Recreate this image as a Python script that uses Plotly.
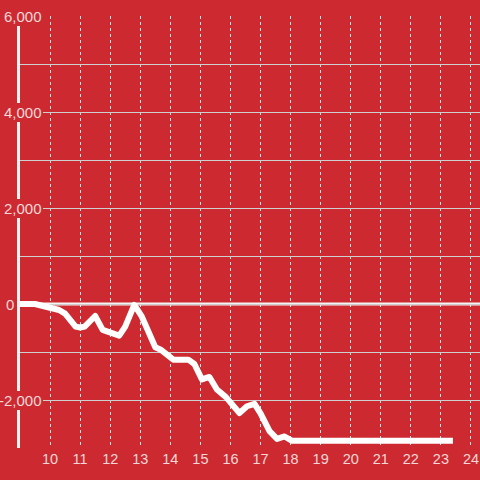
import plotly.graph_objects as go

hours = [9.0, 9.5, 10.3, 10.5, 10.85, 11.0, 11.15, 11.5, 11.75, 12.3, 12.5, 12.8,
         13.05, 13.5, 13.7, 14.1, 14.6, 14.8, 15.05, 15.3, 15.55, 15.85, 16.3,
         16.55, 16.8, 17.0, 17.3, 17.55, 17.8, 18.05, 23.4]
values = [0, 0, -125, -200, -470, -490, -470, -250, -540, -660, -470, -20,
          -260, -900, -960, -1160, -1160, -1250, -1570, -1520, -1780, -1940, -2270,
          -2130, -2080, -2280, -2650, -2810, -2760, -2850, -2850]

x_ticks = list(range(10, 25))
y_grid = list(range(-3000, 6001, 1000))
y_labels = {6000: "6,000", 4000: "4,000", 2000: "2,000", 0: "0", -2000: "-2,000"}
label_shift = {6000: 23, 4000: 23, 2000: 23, 0: -5, -2000: 23}

BG = "#cc2a30"
TXT = "rgba(255,255,255,0.82)"
FONT = "Liberation Sans, Arial, sans-serif"

fig = go.Figure()
fig.add_trace(go.Scatter(x=hours, y=values, mode="lines",
                         line=dict(color="white", width=6), hoverinfo="skip"))

annotations = []
for v, t in y_labels.items():
    annotations.append(dict(
        x=0, xref="paper", y=v, yref="y", text=t, showarrow=False,
        xanchor="right", yanchor="middle", xshift=label_shift[v],
        bgcolor=BG, borderpad=1, borderwidth=0,
        font=dict(family=FONT, size=15, color=TXT)))

fig.update_layout(
    width=480, height=480,
    margin=dict(l=20, r=0, t=16, b=32),
    paper_bgcolor=BG, plot_bgcolor=BG,
    showlegend=False,
    hovermode=False,
    annotations=annotations,
    shapes=[dict(type="line", xref="paper", yref="y", x0=-3/460, x1=1, y0=0, y1=0,
                 line=dict(color="#f4f4f4", width=3), layer="below")],
    xaxis=dict(range=[9, 24.3], tickvals=x_ticks, showgrid=True,
               gridcolor="rgba(255,255,255,0.85)", gridwidth=1, griddash="dot",
               zeroline=False, showline=False, ticks="",
               tickfont=dict(family=FONT, size=14.5, color=TXT)),
    yaxis=dict(range=[-3000, 6000], tickvals=y_grid, showticklabels=False,
               showgrid=True, gridcolor="#cfcfcf", gridwidth=1,
               zeroline=False, showline=True, linecolor="#f2f2f2", linewidth=3,
               ticks=""),
)

fig.write_html("out.html",
               config={"displayModeBar": False},
               post_script="document.body.style.margin='0';"
                           "document.body.style.background='" + BG + "';"
                           "document.querySelectorAll('.scatterlayer path.js-line')"
                           ".forEach(function(p){p.style.strokeLinejoin='round';});")
